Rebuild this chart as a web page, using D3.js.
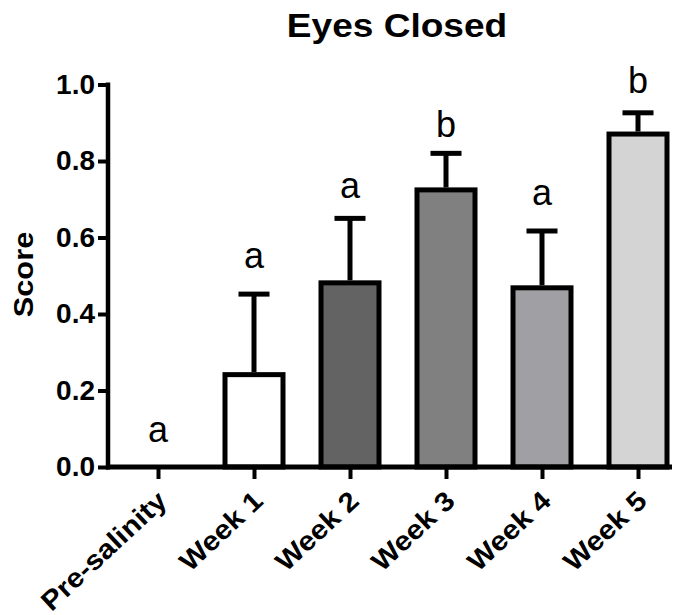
<!DOCTYPE html>
<html>
<head>
<meta charset="utf-8">
<script src="https://cdn.jsdelivr.net/npm/d3@7"></script>
<style>
  html, body { margin: 0; padding: 0; background: #fff; }
  svg { display: block; }
  text { font-family: "Liberation Sans", Arial, sans-serif; }
</style>
</head>
<body>
<svg id="chart" width="678" height="615"></svg>
<script>
// ---- data ----
const categories = ["Pre-salinity", "Week 1", "Week 2", "Week 3", "Week 4", "Week 5"];
const means      = [0, 0.248, 0.488, 0.731, 0.475, 0.877];
const errUpper   = [0, 0.452, 0.650, 0.820, 0.617, 0.926];
const groupLetters = ["a", "a", "a", "b", "a", "b"];
const letterPos  = [0.065, 0.52, 0.702, 0.864, 0.684, 0.977];
const barColors  = ["#ffffff", "#ffffff", "#636363", "#808080", "#a0a0a4", "#d4d4d4"];
const yTicks     = [0, 0.2, 0.4, 0.6, 0.8, 1.0];
const titleText  = "Eyes Closed";
const yLabel     = "Score";

// ---- layout ----
const svg = d3.select("#chart");
const y = d3.scaleLinear().domain([0, 1]).range([467, 84.5]);
const x = d3.scalePoint().domain(categories).range([158, 638]);
const barW = 58;
const sw = 5;

// title
svg.append("text")
  .attr("transform", "translate(397,37) scale(1.09,1)")
  .attr("text-anchor", "middle")
  .attr("font-size", 34).attr("font-weight", "bold")
  .text(titleText);

// y label
svg.append("text")
  .attr("transform", "translate(33,274.5) rotate(-90) scale(1.1,1)")
  .attr("text-anchor", "middle")
  .attr("font-size", 28).attr("font-weight", "bold")
  .text(yLabel);

const data = categories.map((c, i) => ({ c, m: means[i], e: errUpper[i], l: groupLetters[i], lp: letterPos[i], col: barColors[i] }));

// error bars (behind bars)
const eb = svg.append("g");
data.filter(d => d.e > d.m).forEach(d => {
  eb.append("line")
    .attr("x1", x(d.c)).attr("x2", x(d.c))
    .attr("y1", y(d.m)).attr("y2", y(d.e))
    .attr("stroke", "#000").attr("stroke-width", sw);
  eb.append("line")
    .attr("x1", x(d.c) - 15.5).attr("x2", x(d.c) + 15.5)
    .attr("y1", y(d.e)).attr("y2", y(d.e))
    .attr("stroke", "#000").attr("stroke-width", sw);
});

// bars
svg.append("g").selectAll("rect")
  .data(data.filter(d => d.m > 0))
  .join("rect")
  .attr("x", d => x(d.c) - barW / 2)
  .attr("y", d => y(d.m) + sw / 2)
  .attr("width", barW)
  .attr("height", d => y(0) - y(d.m) - sw / 2)
  .attr("fill", d => d.col)
  .attr("stroke", "#000")
  .attr("stroke-width", sw);

// letters
svg.append("g").selectAll("text")
  .data(data)
  .join("text")
  .attr("x", d => x(d.c))
  .attr("y", d => y(d.lp))
  .attr("text-anchor", "middle")
  .attr("font-size", 36)
  .text(d => d.l);

// y axis
const yAxis = svg.append("g")
  .attr("transform", "translate(108,0)")
  .call(d3.axisLeft(y).tickValues(yTicks).tickFormat(d3.format(".1f")).tickSize(10).tickPadding(3));
yAxis.select(".domain").attr("d", `M0,${y(1) - 2}V${y(0) + 2.5}`).attr("stroke-width", 4.5).attr("stroke", "#000");
yAxis.selectAll(".tick line").attr("stroke-width", 4).attr("stroke", "#000");
yAxis.selectAll(".tick text")
  .attr("font-size", 28).attr("font-weight", "bold")
  .attr("font-family", "Liberation Sans, Arial, sans-serif")
  .attr("fill", "#000");

// x axis
const xAxis = svg.append("g")
  .attr("transform", `translate(0,${y(0)})`)
  .call(d3.axisBottom(x).tickSize(12).tickPadding(0));
xAxis.select(".domain").attr("d", "M106,0H672").attr("stroke-width", 5).attr("stroke", "#000");
xAxis.selectAll(".tick line").attr("stroke-width", 4).attr("stroke", "#000");
xAxis.selectAll(".tick text")
  .attr("font-size", 27).attr("font-weight", "bold")
  .attr("font-family", "Liberation Sans, Arial, sans-serif")
  .attr("fill", "#000")
  .attr("text-anchor", "end")
  .attr("x", 0).attr("y", 0)
  .attr("dy", null)
  .attr("transform", "translate(10,36) rotate(-43) scale(1.1,1)");
</script>
</body>
</html>
